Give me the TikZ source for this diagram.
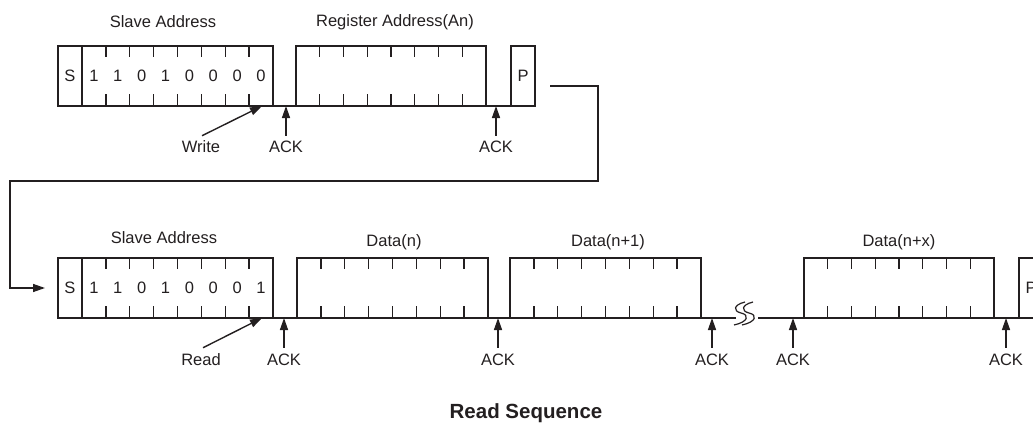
\documentclass[tikz,border=0pt]{standalone}
\usepackage{fontspec}
\setmainfont{Liberation Sans}
\usetikzlibrary{arrows.meta,calc}
\definecolor{ink}{RGB}{35,31,32}
\begin{document}
\begin{tikzpicture}[x=1pt,y=-1pt,
  every node/.style={text=ink,font=\fontsize{16.5}{18}\selectfont},
  line/.style={draw=ink,line width=1.4pt},
  box/.style={line,rectangle,inner sep=0pt,outer sep=0pt,minimum height=60pt,anchor=north west},
  sbox/.style={box,minimum width=24pt},
  bytebox/.style={box,minimum width=#1},
  tri/.style={-{Triangle[length=12pt,width=8pt]}},
  lbl/.style={inner sep=0pt,anchor=center}]
\path[use as bounding box] (0,0) rectangle (1033,423);
\clip (0,0) rectangle (1033,423);
% ---------- top row ----------
\node[sbox] (s1) at (58,46) {S};
\node[bytebox=191pt] (a1) at (82,46) {};
\node[bytebox=190pt] (r1) at (296,46) {};
\node[sbox] (p1) at (511,46) {P};
% ---------- bottom row ----------
\node[sbox] (s2) at (58,258) {S};
\node[bytebox=191pt] (a2) at (82,258) {};
\node[bytebox=191pt] (d1) at (297,258) {};
\node[bytebox=191pt] (d2) at (510,258) {};
\node[bytebox=190pt] (d3) at (804,258) {};
\node[sbox] (p2) at (1019,258) {P};
% ticks
\foreach \b in {a1,r1,a2,d1,d2,d3}{
  \foreach \k in {1,...,7}{
    \draw[line] ($(\b.north west)!\k/8!(\b.north east)$) -- ++(0,11);
    \draw[line] ($(\b.south west)!\k/8!(\b.south east)$) -- ++(0,-12);
  }
}
% bits
\foreach \v [count=\i] in {1,1,0,1,0,0,0,0}{
  \node[lbl] (wb\i) at ($(a1.west)+(\i*23.875-11.94,0)$) {\v};
}
\foreach \v [count=\i] in {1,1,0,1,0,0,0,1}{
  \node[lbl] (rb\i) at ($(a2.west)+(\i*23.875-11.94,0)$) {\v};
}
% baselines
\draw[line] (a1.south east) -- (r1.south west);
\draw[line] (r1.south east) -- (p1.south west);
\draw[line] (a2.south east) -- (d1.south west);
\draw[line] (d1.south east) -- (d2.south west);
\coordinate (brkL) at (736,318);
\coordinate (brkR) at (758,318);
\draw[line] (d2.south east) -- (brkL);
\draw[line] (brkR) -- (d3.south west);
\draw[line] (d3.south east) -- (p2.south west);
% break mark
\foreach \dx in {0,8}{
  \draw[draw=ink,line width=1.2pt] (745+\dx,302) .. controls (733+\dx,305) and (733+\dx,311) .. (741+\dx,313)
     .. controls (750+\dx,315) and (748+\dx,322) .. (734+\dx,325);
}
% labels
\node[lbl] (t1) at (163,22) {Slave Address};
\node[lbl] (t2) at (395,22) {Register Address(An)};
\node[lbl] (t3) at (164,238) {Slave Address};
\node[lbl] (t4) at (394,242) {Data(n)};
\node[lbl] (t5) at (608,242) {Data(n+1)};
\node[lbl] (t6) at (899,242) {Data(n+x)};
% write / read
\node[lbl] (wr) at (201,147) {Write};
\node[lbl] (rd) at (201,360) {Read};
\coordinate (wtip) at (262,106);
\coordinate (rtip) at (262,318);
\draw[line,tri] ($(wr.north)+(1,-5)$) -- (wtip);
\draw[line,tri] ($(rd.north)+(2,-6)$) -- (rtip);
% ACKs top
\foreach \n/\x in {ta1/286,ta2/496}{
  \node[lbl] (\n) at (\x,147) {ACK};
  \coordinate (\n tip) at (\x,106);
  \draw[line,tri] ($(\n.north)+(0,-5)$) -- (\n tip);
}
% ACKs bottom
\foreach \n/\x in {ba1/284,ba2/498,ba3/712,ba4/793,ba5/1006}{
  \node[lbl] (\n) at (\x,360) {ACK};
  \coordinate (\n tip) at (\x,318);
  \draw[line,tri] ($(\n.north)+(0,-6)$) -- (\n tip);
}
% flow connector
\coordinate (c0) at (550,86);
\draw[line,tri] (c0) -| (598,181) -| (10,288) -- ([xshift=-13pt]s2.west);
% title
\node[lbl,font=\bfseries\fontsize{20.5}{22}\selectfont] (title) at (526,413) {Read Sequence};
\end{tikzpicture}
\end{document}
